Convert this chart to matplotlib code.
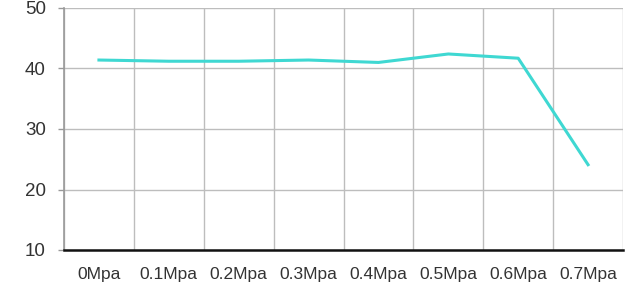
import matplotlib.pyplot as plt
import numpy as np

plt.rcParams['font.family'] = ['Liberation Sans', 'DejaVu Sans']

categories = ["0Mpa", "0.1Mpa", "0.2Mpa", "0.3Mpa", "0.4Mpa", "0.5Mpa", "0.6Mpa", "0.7Mpa"]
values = [41.4, 41.2, 41.2, 41.4, 41.0, 42.4, 41.7, 24.1]
y_ticks = [10, 20, 30, 40, 50]

fig = plt.figure(figsize=(6.31, 2.88), dpi=100)
ax = fig.add_axes([64 / 631, 1 - 250 / 288, (623 - 64) / 631, (250 - 8) / 288])

xs = np.arange(len(categories))
ax.plot(xs, values, color="#3fd8d2", linewidth=2.2, zorder=3)

ax.set_xlim(-0.5, len(categories) - 0.5)
ax.set_ylim(10, 50)

# gridlines at category boundaries
ax.set_xticks(xs)
ax.set_xticklabels(categories, fontsize=12.5, color="#333333")
ax.set_xticks(np.arange(-0.5, len(categories)), minor=True)
ax.tick_params(axis="x", which="both", length=0, pad=12)
ax.grid(axis="x", which="minor", color="#bdbdbd", linewidth=1)

ax.set_yticks(y_ticks)
ax.set_yticklabels([str(t) for t in y_ticks], fontsize=13.5, color="#333333")
ax.tick_params(axis="y", length=4, width=1, color="#999999", pad=9)
ax.grid(axis="y", color="#bdbdbd", linewidth=1)

ax.spines["top"].set_visible(False)
ax.spines["right"].set_visible(False)
ax.spines["left"].set_color("#999999")
ax.spines["left"].set_linewidth(1.2)
ax.spines["bottom"].set_color("#111111")
ax.spines["bottom"].set_linewidth(1.8)
ax.set_axisbelow(True)

fig.savefig("out.png", dpi=100)
